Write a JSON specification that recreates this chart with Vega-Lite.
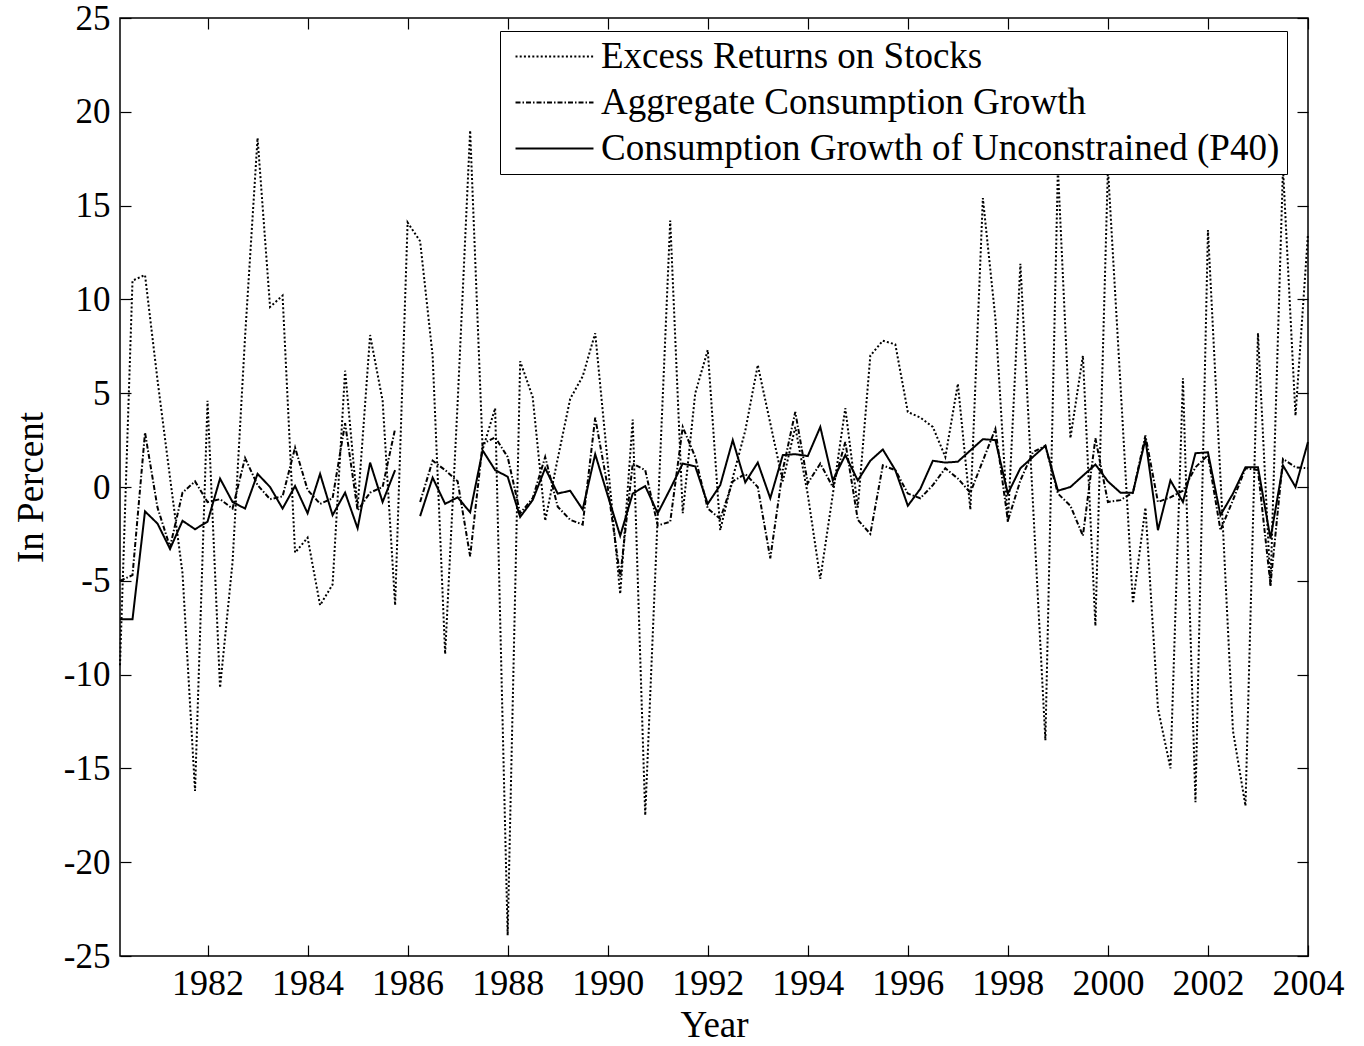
{
  "$schema": "https://vega.github.io/schema/vega-lite/v6.json",
  "width": 1188,
  "height": 938,
  "autosize": "none",
  "padding": {"left": 120, "top": 18, "right": 56, "bottom": 90},
  "background": "white",
  "config": {
    "font": "Liberation Serif",
    "view": {"stroke": "black", "strokeWidth": 1.5},
    "axis": {
      "domain": false, "grid": false, "labelFlush": false,
      "tickColor": "black", "tickSize": -11, "tickWidth": 1.2,
      "labelColor": "black", "labelFont": "Liberation Serif", "labelFontSize": 36,
      "titleFont": "Liberation Serif", "titleFontSize": 37, "titleFontWeight": "normal", "titleColor": "black"
    }
  },
  "data": {"values": [
    {"t":1980.25,"E":-9.5,"A":-5.0,"C":-7.05},
    {"t":1980.5,"E":11.0,"A":-4.7,"C":-7.05},
    {"t":1980.75,"E":11.3,"A":2.9,"C":-1.3},
    {"t":1981.0,"E":5.7,"A":-1.1,"C":-1.95},
    {"t":1981.25,"E":0.5,"A":-3.2,"C":-3.3},
    {"t":1981.5,"E":-4.6,"A":-0.3,"C":-1.8},
    {"t":1981.75,"E":-16.2,"A":0.3,"C":-2.25},
    {"t":1982.0,"E":4.6,"A":-0.8,"C":-1.85},
    {"t":1982.25,"E":-10.7,"A":-0.65,"C":0.45},
    {"t":1982.5,"E":-4.0,"A":-1.15,"C":-0.8},
    {"t":1982.75,"E":8.0,"A":1.55,"C":-1.15},
    {"t":1983.0,"E":18.6,"A":0.1,"C":0.7},
    {"t":1983.25,"E":9.6,"A":-0.65,"C":0.0},
    {"t":1983.5,"E":10.2,"A":-0.5,"C":-1.15},
    {"t":1983.75,"E":-3.5,"A":2.1,"C":0.05},
    {"t":1984.0,"E":-2.7,"A":-0.15,"C":-1.4},
    {"t":1984.25,"E":-6.3,"A":-0.9,"C":0.7},
    {"t":1984.5,"E":-5.2,"A":-0.6,"C":-1.5},
    {"t":1984.75,"E":6.2,"A":3.4,"C":-0.3},
    {"t":1985.0,"E":-1.1,"A":-1.25,"C":-2.2},
    {"t":1985.25,"E":8.1,"A":-0.3,"C":1.3},
    {"t":1985.5,"E":4.6,"A":0.0,"C":-0.8},
    {"t":1985.75,"E":-6.3,"A":3.1,"C":0.9},
    {"t":1986.0,"E":14.1,"A":null,"C":null},
    {"t":1986.25,"E":13.1,"A":-0.8,"C":-1.55},
    {"t":1986.5,"E":7.0,"A":1.4,"C":0.5},
    {"t":1986.75,"E":-8.9,"A":0.9,"C":-0.9},
    {"t":1987.0,"E":4.5,"A":0.3,"C":-0.55},
    {"t":1987.25,"E":19.0,"A":-3.7,"C":-1.35},
    {"t":1987.5,"E":2.0,"A":2.3,"C":1.95},
    {"t":1987.75,"E":4.2,"A":2.65,"C":0.9},
    {"t":1988.0,"E":-23.9,"A":1.6,"C":0.55},
    {"t":1988.25,"E":6.7,"A":-1.4,"C":-1.6},
    {"t":1988.5,"E":4.8,"A":-0.6,"C":-0.7},
    {"t":1988.75,"E":-1.8,"A":1.6,"C":1.0},
    {"t":1989.0,"E":1.5,"A":-1.05,"C":-0.35},
    {"t":1989.25,"E":4.7,"A":-1.75,"C":-0.2},
    {"t":1989.5,"E":5.9,"A":-2.0,"C":-1.2},
    {"t":1989.75,"E":8.2,"A":3.7,"C":1.75},
    {"t":1990.0,"E":1.3,"A":0.0,"C":-0.45},
    {"t":1990.25,"E":-5.7,"A":-4.8,"C":-2.6},
    {"t":1990.5,"E":3.6,"A":1.25,"C":-0.35},
    {"t":1990.75,"E":-17.5,"A":0.9,"C":0.05},
    {"t":1991.0,"E":-1.5,"A":-2.05,"C":-1.4},
    {"t":1991.25,"E":14.2,"A":-1.85,"C":-0.1},
    {"t":1991.5,"E":-1.4,"A":3.2,"C":1.25},
    {"t":1991.75,"E":5.0,"A":1.6,"C":1.1},
    {"t":1992.0,"E":7.3,"A":-1.15,"C":-0.9},
    {"t":1992.25,"E":-2.3,"A":-1.7,"C":0.1},
    {"t":1992.5,"E":0.5,"A":0.3,"C":2.5},
    {"t":1992.75,"E":3.0,"A":0.7,"C":0.25},
    {"t":1993.0,"E":6.5,"A":0.0,"C":1.3},
    {"t":1993.25,"E":3.4,"A":-3.8,"C":-0.6},
    {"t":1993.5,"E":0.3,"A":0.9,"C":1.7},
    {"t":1993.75,"E":3.2,"A":4.0,"C":1.75},
    {"t":1994.0,"E":-0.4,"A":0.2,"C":1.65},
    {"t":1994.25,"E":-4.9,"A":1.25,"C":3.2},
    {"t":1994.5,"E":-0.4,"A":0.0,"C":0.35},
    {"t":1994.75,"E":4.2,"A":2.4,"C":1.7},
    {"t":1995.0,"E":-1.1,"A":-1.75,"C":0.35},
    {"t":1995.25,"E":7.0,"A":-2.5,"C":1.4},
    {"t":1995.5,"E":7.8,"A":1.15,"C":2.0},
    {"t":1995.75,"E":7.6,"A":0.9,"C":0.9},
    {"t":1996.0,"E":4.0,"A":-0.35,"C":-1.0},
    {"t":1996.25,"E":3.7,"A":-0.6,"C":-0.1},
    {"t":1996.5,"E":3.2,"A":0.1,"C":1.4},
    {"t":1996.75,"E":1.6,"A":1.0,"C":1.3},
    {"t":1997.0,"E":5.5,"A":0.45,"C":1.35},
    {"t":1997.25,"E":-1.2,"A":-0.3,"C":1.95},
    {"t":1997.5,"E":15.4,"A":1.4,"C":2.55},
    {"t":1997.75,"E":9.0,"A":3.1,"C":2.5},
    {"t":1998.0,"E":-1.9,"A":-1.8,"C":-0.35},
    {"t":1998.25,"E":11.9,"A":0.35,"C":1.0},
    {"t":1998.5,"E":-0.8,"A":1.85,"C":1.6},
    {"t":1998.75,"E":-13.5,"A":2.2,"C":2.2},
    {"t":1999.0,"E":17.0,"A":-0.35,"C":-0.2},
    {"t":1999.25,"E":2.6,"A":-1.0,"C":0.0},
    {"t":1999.5,"E":7.0,"A":-2.6,"C":0.6},
    {"t":1999.75,"E":-7.4,"A":2.6,"C":1.2},
    {"t":2000.0,"E":17.0,"A":-0.8,"C":0.3},
    {"t":2000.25,"E":5.5,"A":-0.7,"C":-0.3},
    {"t":2000.5,"E":-6.2,"A":-0.3,"C":-0.3},
    {"t":2000.75,"E":-1.1,"A":2.75,"C":2.55},
    {"t":2001.0,"E":-11.8,"A":-0.8,"C":-2.3},
    {"t":2001.25,"E":-15.0,"A":-0.55,"C":0.35},
    {"t":2001.5,"E":5.8,"A":-0.2,"C":-0.8},
    {"t":2001.75,"E":-16.8,"A":1.05,"C":1.8},
    {"t":2002.0,"E":13.7,"A":1.7,"C":1.85},
    {"t":2002.25,"E":0.5,"A":-2.3,"C":-1.5},
    {"t":2002.5,"E":-13.0,"A":-0.7,"C":-0.35},
    {"t":2002.75,"E":-17.0,"A":1.0,"C":1.05},
    {"t":2003.0,"E":8.2,"A":0.9,"C":1.05},
    {"t":2003.25,"E":-5.3,"A":-5.2,"C":-2.75},
    {"t":2003.5,"E":17.0,"A":1.5,"C":1.15},
    {"t":2003.75,"E":3.8,"A":1.05,"C":0.0},
    {"t":2004.0,"E":13.5,"A":1.0,"C":2.4}
  ]},
  "transform": [
    {"fold": ["E", "A", "C"], "as": ["key", "v"]},
    {"lookup": "key", "from": {"data": {"values": [
      {"key": "E", "series": "Excess Returns on Stocks"},
      {"key": "A", "series": "Aggregate Consumption Growth"},
      {"key": "C", "series": "Consumption Growth of Unconstrained (P40)"}
    ]}, "key": "key", "fields": ["series"]}}
  ],
  "layer": [
    {
      "mark": {"type": "line", "color": "black", "strokeWidth": 2, "strokeCap": "butt", "invalid": "break-paths-show-domains"},
      "encoding": {
        "x": {"field": "t", "type": "quantitative",
              "scale": {"domain": [1980.25, 2004], "nice": false, "zero": false},
              "axis": {"orient": "bottom", "values": [1982,1984,1986,1988,1990,1992,1994,1996,1998,2000,2002,2004], "format": "d", "title": "Year", "labelPadding": 21, "titlePadding": 6}},
        "y": {"field": "v", "type": "quantitative",
              "scale": {"domain": [-25, 25], "nice": false, "zero": false},
              "axis": {"orient": "left", "values": [-25,-20,-15,-10,-5,0,5,10,15,20,25], "labelExpr": "datum.value < 0 ? '-' + (-datum.value) : '' + datum.value", "labelFontSize": 35, "title": "In Percent", "labelPadding": 21, "titlePadding": 13}},
        "strokeDash": {"field": "series", "type": "nominal",
          "scale": {"domain": ["Excess Returns on Stocks", "Aggregate Consumption Growth", "Consumption Growth of Unconstrained (P40)"],
                    "range": [[2, 2.2], [5, 2, 1.5, 2], [1, 0]]},
          "legend": {"orient": "none", "legendX": 380, "legendY": 13, "title": null,
            "labelFont": "Liberation Serif", "labelFontSize": 37, "labelColor": "black", "labelLimit": 0, "labelOffset": 28,
            "symbolType": "M-4,0H4", "symbolSize": 380, "symbolOffset": 29, "symbolStrokeWidth": 2, "symbolStrokeColor": "black", "symbolFillColor": "transparent",
            "strokeColor": "black", "fillColor": "white", "padding": 7, "rowPadding": 8}}
      }
    },
    {
      "mark": {"type": "point", "opacity": 0},
      "encoding": {
        "x": {"field": "t", "type": "quantitative",
              "scale": {"domain": [1980.25, 2004], "nice": false, "zero": false},
              "axis": {"orient": "top", "values": [1982,1984,1986,1988,1990,1992,1994,1996,1998,2000,2002,2004], "labels": false, "title": null}},
        "y": {"field": "v", "type": "quantitative",
              "scale": {"domain": [-25, 25], "nice": false, "zero": false},
              "axis": {"orient": "right", "values": [-25,-20,-15,-10,-5,0,5,10,15,20,25], "labels": false, "title": null}}
      }
    }
  ],
  "resolve": {"axis": {"x": "independent", "y": "independent"}}
}
